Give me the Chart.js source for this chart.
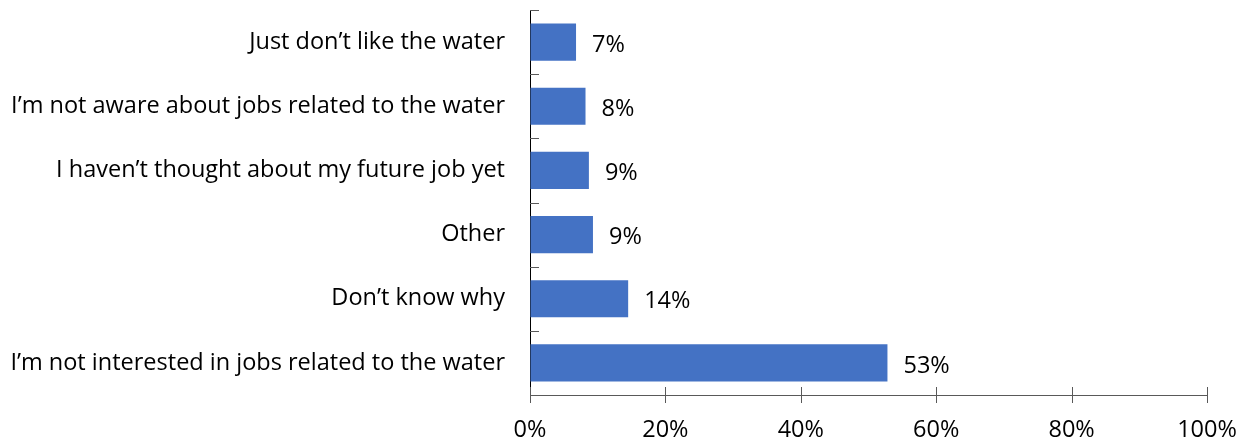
<!DOCTYPE html>
<html>
<head>
<meta charset="utf-8">
<script src="https://cdn.jsdelivr.net/npm/chart.js@4.4.1/dist/chart.umd.min.js"></script>
<style>
html,body{margin:0;padding:0;background:#fff;}
#wrap{width:1256px;height:445px;position:relative;}
</style>
</head>
<body>
<div id="wrap"><canvas id="c" width="1256" height="445"></canvas></div>
<script>
const categories = [
  "Just don\u2019t like the water",
  "I\u2019m not aware about jobs related to the water",
  "I haven\u2019t thought about my future job yet",
  "Other",
  "Don\u2019t know why",
  "I\u2019m not interested in jobs related to the water"
];
const values = [6.8, 8.2, 8.7, 9.3, 14.5, 52.8];
const valueLabels = ["7%", "8%", "9%", "9%", "14%", "53%"];
const xTicks = [0, 20, 40, 60, 80, 100];

const FONT = "'Open Sans', sans-serif";
const FSIZE = 23.5;
const AXIS = "#595959";

const decor = {
  id: "decor",
  afterDatasetsDraw(chart) {
    const ctx = chart.ctx;
    const x = chart.scales.x, y = chart.scales.y;
    ctx.save();
    ctx.strokeStyle = AXIS;
    ctx.lineWidth = 1;
    const n = categories.length;
    const step = (y.getPixelForValue(1) - y.getPixelForValue(0));
    for (let i = 0; i <= n; i++) {
      const py = Math.round(y.getPixelForValue(i) - step / 2) + 0.5;
      ctx.beginPath();
      ctx.moveTo(x.left, py);
      ctx.lineTo(x.left + 9, py);
      ctx.stroke();
    }
    xTicks.forEach(v => {
      const px = Math.round(x.getPixelForValue(v)) + 0.5;
      ctx.beginPath();
      ctx.moveTo(px, y.bottom - 8);
      ctx.lineTo(px, y.bottom + 8);
      ctx.stroke();
    });
    ctx.fillStyle = "#000";
    ctx.font = FSIZE + "px " + FONT;
    ctx.textBaseline = "middle";
    ctx.textAlign = "left";
    const meta = chart.getDatasetMeta(0);
    meta.data.forEach((bar, i) => {
      ctx.fillText(valueLabels[i], bar.x + 16, bar.y + 3);
    });
    ctx.restore();
  }
};

new Chart(document.getElementById("c"), {
  type: "bar",
  data: {
    labels: categories,
    datasets: [{
      data: values,
      backgroundColor: "#4472C4",
      borderWidth: 0,
      categoryPercentage: 0.58,
      barPercentage: 1.0
    }]
  },
  options: {
    indexAxis: "y",
    responsive: false,
    animation: false,
    events: [],
    layout: { padding: { top: 10, right: 49, left: 0, bottom: 0 } },
    plugins: { legend: { display: false }, tooltip: { enabled: false } },
    scales: {
      x: {
        min: 0, max: 100,
        afterBuildTicks(scale) { scale.ticks = xTicks.map(v => ({ value: v })); },
        afterFit(scale) { scale.height = 50; scale.paddingLeft = 0; scale.paddingRight = 0; },
        grid: { display: true, drawOnChartArea: false, drawTicks: false },
        border: { display: true, color: AXIS, width: 1 },
        ticks: {
          color: "#000",
          font: { family: FONT, size: FSIZE },
          padding: 21,
          maxRotation: 0,
          callback: v => v + "%"
        }
      },
      y: {
        afterFit(scale) { scale.width = 530; scale.paddingTop = 0; scale.paddingBottom = 0; },
        grid: { display: false, drawTicks: false },
        border: { display: true, color: "#000", width: 1 },
        ticks: {
          color: "#000",
          font: { family: FONT, size: FSIZE },
          padding: 25,
          autoSkip: false
        }
      }
    }
  },
  plugins: [decor]
});
</script>
</body>
</html>
